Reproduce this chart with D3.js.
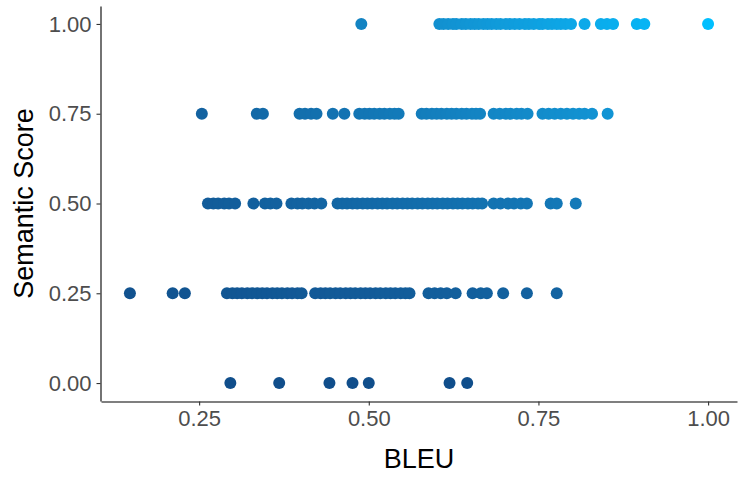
<!DOCTYPE html>
<html>
<head>
<meta charset="utf-8">
<script src="https://cdn.jsdelivr.net/npm/d3@7"></script>
<style>
  body { margin: 0; background: #fff; }
  text { font-family: "Liberation Sans", Arial, sans-serif; }
</style>
</head>
<body>
<script>
// BLEU values, one array per semantic score level
var semanticLevels = [0, 0.25, 0.5, 0.75, 1];

var bleuAt000 = [0.296, 0.368, 0.442, 0.476, 0.500, 0.619, 0.645];

var bleuAt025 = [0.148, 0.211, 0.229,
    0.291, 0.299, 0.306, 0.313, 0.321, 0.328, 0.336, 0.343, 0.350, 0.358, 0.365, 0.372, 0.380, 0.387, 0.395, 0.401,
    0.421, 0.429, 0.436, 0.443, 0.451, 0.458, 0.466, 0.473, 0.480, 0.488, 0.495, 0.502, 0.510, 0.517, 0.525, 0.532, 0.539, 0.547, 0.554, 0.560,
    0.588, 0.597, 0.606, 0.615, 0.628,
    0.653, 0.665, 0.674, 0.698, 0.733, 0.777];

var bleuAt050 = [0.263, 0.271, 0.278, 0.287, 0.294, 0.303,
    0.330, 0.347, 0.355, 0.364,
    0.386, 0.395, 0.402, 0.411, 0.420, 0.430,
    0.454, 0.461, 0.468, 0.476, 0.483, 0.491, 0.498, 0.505, 0.513, 0.520, 0.527, 0.535, 0.542, 0.550,
    0.557, 0.564, 0.572, 0.579, 0.587, 0.594, 0.601, 0.609, 0.616, 0.624, 0.631, 0.638, 0.646, 0.653, 0.661, 0.667,
    0.684, 0.694, 0.705, 0.714, 0.724, 0.733,
    0.768, 0.777, 0.805];

var bleuAt075 = [0.254, 0.335, 0.344,
    0.398, 0.406, 0.415, 0.423, 0.447, 0.464,
    0.486, 0.494, 0.501, 0.508, 0.516, 0.523, 0.531, 0.538, 0.544,
    0.578, 0.585, 0.593, 0.600, 0.607, 0.615, 0.622, 0.629, 0.637, 0.644, 0.652, 0.658, 0.664,
    0.684, 0.693, 0.702, 0.709, 0.718, 0.725, 0.734,
    0.756, 0.765, 0.774, 0.783, 0.792, 0.801, 0.810, 0.818, 0.829, 0.852];

var bleuAt100 = [0.489,
    0.604, 0.610, 0.617, 0.624, 0.629, 0.637, 0.643, 0.650, 0.656, 0.662, 0.669, 0.675, 0.681, 0.688, 0.694,
    0.702, 0.708, 0.715, 0.722, 0.730, 0.736, 0.743, 0.751, 0.756, 0.764, 0.770, 0.777, 0.783, 0.790, 0.798,
    0.818, 0.842, 0.851, 0.860, 0.895, 0.906, 1.000];

var xTicks = [0.25, 0.5, 0.75, 1.0];
var yTicks = [0, 0.25, 0.5, 0.75, 1.0];

var rows = [bleuAt000, bleuAt025, bleuAt050, bleuAt075, bleuAt100];
var points = [];
rows.forEach(function (row, i) {
    row.forEach(function (b) {
        points.push({ bleu: b, semantic: semanticLevels[i] });
    });
});

var width = 750,
    height = 480;

var panelLeft = 101, panelRight = 737, panelTop = 6, panelBottom = 401;

// ggplot style 5% expansion
var xMin = d3.min(points, function (d) { return d.bleu; }),
    xMax = d3.max(points, function (d) { return d.bleu; });
var xPad = (xMax - xMin) * 0.05;

var x = d3.scaleLinear()
    .domain([xMin - xPad, xMax + xPad])
    .range([panelLeft, panelRight]);

var y = d3.scaleLinear()
    .domain([-0.05, 1.05])
    .range([panelBottom, panelTop]);

var color = d3.scaleLinear()
    .domain([0, 1])
    .range(["#104E8B", "#00BFFF"])
    .interpolate(d3.interpolateLab);

var svg = d3.select("body").append("svg")
    .attr("width", width)
    .attr("height", height);

svg.selectAll("circle")
    .data(points)
    .enter().append("circle")
    .attr("cx", function (d) { return x(d.bleu); })
    .attr("cy", function (d) { return y(d.semantic); })
    .attr("r", 6)
    .style("fill", function (d) { return color(d.bleu * d.semantic); });

var xAxis = svg.append("g")
    .attr("transform", "translate(0," + (panelBottom + 0.5) + ")")
    .call(d3.axisBottom(x).tickValues(xTicks).tickSize(4).tickSizeOuter(0).tickPadding(5)
        .tickFormat(d3.format(".2f")));

var yAxis = svg.append("g")
    .attr("transform", "translate(" + (panelLeft - 0.5) + ",0)")
    .call(d3.axisLeft(y).tickValues(yTicks).tickSize(4).tickSizeOuter(0).tickPadding(5)
        .tickFormat(d3.format(".2f")));

[xAxis, yAxis].forEach(function (ax) {
    ax.select(".domain").attr("stroke", "#000").attr("stroke-width", 1.1);
    ax.selectAll(".tick line").attr("stroke", "#333").attr("stroke-width", 1.1);
    ax.selectAll(".tick text")
        .attr("fill", "#4d4d4d")
        .style("font-size", "22px")
        .style("font-family", "'Liberation Sans', Arial, sans-serif");
});

svg.append("text")
    .attr("x", (panelLeft + panelRight) / 2)
    .attr("y", 468)
    .attr("text-anchor", "middle")
    .style("font-size", "27px")
    .text("BLEU");

svg.append("text")
    .attr("transform", "translate(33," + (panelTop + panelBottom) / 2 + ") rotate(-90)")
    .attr("text-anchor", "middle")
    .style("font-size", "27px")
    .text("Semantic Score");
</script>
</body>
</html>
